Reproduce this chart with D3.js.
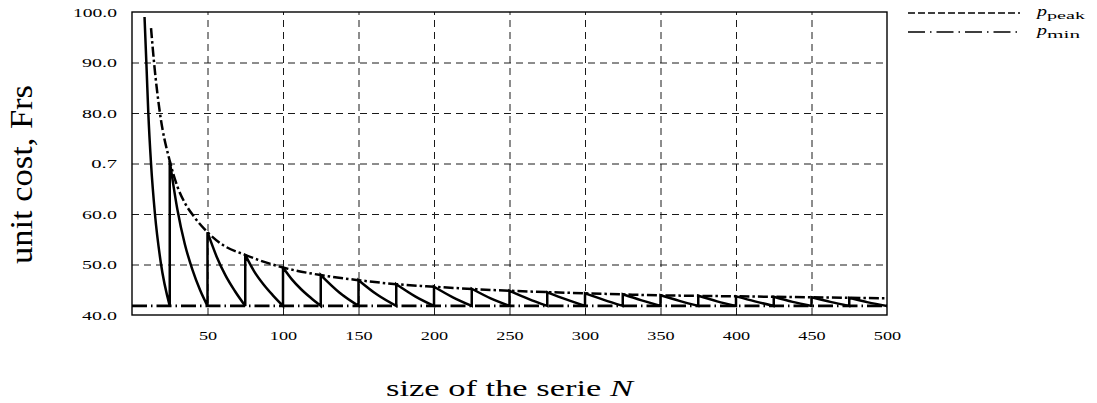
<!DOCTYPE html>
<html>
<head>
<meta charset="utf-8">
<script src="https://cdn.jsdelivr.net/npm/d3@7"></script>
<style>
  body { margin: 0; background: #fff; }
  svg text { font-family: 'Liberation Serif', 'DejaVu Serif', serif; fill: #000; }
</style>
</head>
<body>
<div id="chart"></div>
<script>
// Unit cost of a serie: sawtooth with its peak and minimum envelopes

// Sawtooth (solid line), one list per tooth
const toothN = [
  [8.3, 9.7, 10.8, 12.6, 15.2, 19, 25],
  [25, 30, 35, 40, 45, 50],
  [50, 56, 62, 68, 75],
  [75, 81, 87, 93, 100],
  [100, 106, 112, 118, 125],
  [125, 137.5, 150],
  [150, 162.5, 175],
  [175, 187.5, 200],
  [200, 212.5, 225],
  [225, 237.5, 250],
  [250, 262.5, 275],
  [275, 287.5, 300],
  [300, 312.5, 325],
  [325, 337.5, 350],
  [350, 362.5, 375],
  [375, 387.5, 400],
  [400, 412.5, 425],
  [425, 437.5, 450],
  [450, 462.5, 475],
  [475, 487.5, 500]
]
const toothCost = [
  [99.0, 88.5, 80.0, 70.0, 60.0, 50.5, 41.8],
  [70.5, 61.0, 54.0, 49.0, 45.0, 41.8],
  [56.4, 51.6, 47.8, 44.8, 41.8],
  [51.9, 48.6, 46.1, 44.0, 41.8],
  [49.4, 47.0, 45.1, 43.5, 41.8],
  [47.9, 44.4, 41.8],
  [46.9, 44.0, 41.8],
  [46.1, 43.7, 41.8],
  [45.6, 43.5, 41.8],
  [45.2, 43.3, 41.8],
  [44.8, 43.2, 41.8],
  [44.5, 43.1, 41.8],
  [44.3, 43.0, 41.8],
  [44.1, 42.9, 41.8],
  [43.9, 42.8, 41.8],
  [43.8, 42.7, 41.8],
  [43.7, 42.7, 41.8],
  [43.6, 42.6, 41.8],
  [43.5, 42.6, 41.8],
  [43.4, 42.5, 41.8]
]

// p_peak envelope (dash-dot)
const peakN = [12.6, 14.6, 18.5, 25, 30, 35, 41, 50, 60, 75, 100, 125, 150, 175, 200, 250, 300, 350, 400, 450, 500]
const peakCost = [96.8, 90.0, 80.0, 70.5, 65.5, 62.2, 59.5, 56.4, 53.9, 51.9, 49.4, 47.9, 46.9, 46.1, 45.6, 44.8, 44.3, 43.9, 43.7, 43.5, 43.3]

// p_min level (long dash-dot)
const minN = [0, 500]
const minCost = [41.8, 41.8]

// Axes
const xTicks = [50, 100, 150, 200, 250, 300, 350, 400, 450, 500]
const yTicks = [40, 50, 60, 70, 80, 90, 100]
const yTickLabels = ['40.0', '50.0', '60.0', '0.7', '80.0', '90.0', '100.0']

const width = 1097
const height = 403
const plot = { left: 132, right: 887, top: 12, bottom: 315 }

const svg = d3.select('#chart')
  .append('svg')
  .attr('width', width)
  .attr('height', height)
  .style('display', 'block')

const x = d3.scaleLinear().domain([0, 500]).range([plot.left, plot.right])
const y = d3.scaleLinear().domain([40, 100]).range([plot.bottom, plot.top])

// label width in the (stretched) original figure
const labelWidth = s => s.split('').reduce((w, c) => w + (c === '.' ? 7.6 : 9.1), 0)

// grid
svg.append('g')
  .attr('transform', `translate(0, ${plot.bottom})`)
  .call(d3.axisBottom(x).tickValues(xTicks.filter(d => d < 500)).tickSize(-(plot.bottom - plot.top)).tickFormat(''))
  .call(g => g.select('.domain').remove())
  .call(g => g.selectAll('line').attr('stroke', '#1a1a1a').attr('stroke-dasharray', '7,5'))

svg.append('g')
  .attr('transform', `translate(${plot.left}, 0)`)
  .call(d3.axisLeft(y).tickValues(yTicks.filter(d => d > 40 && d < 100)).tickSize(-(plot.right - plot.left)).tickFormat(''))
  .call(g => g.select('.domain').remove())
  .call(g => g.selectAll('line').attr('stroke', '#1a1a1a').attr('stroke-dasharray', '7,5'))

// tick labels
svg.append('g')
  .attr('transform', `translate(0, ${plot.bottom})`)
  .call(d3.axisBottom(x).tickValues(xTicks).tickSize(0).tickFormat(d3.format('d')))
  .call(g => g.select('.domain').remove())
  .call(g => g.selectAll('text')
    .attr('y', 25).attr('dy', null)
    .attr('font-size', 13)
    .attr('textLength', function () { return labelWidth(this.textContent) })
    .attr('lengthAdjust', 'spacingAndGlyphs'))

svg.append('g')
  .attr('transform', `translate(${plot.left}, 0)`)
  .call(d3.axisLeft(y).tickValues(yTicks).tickSize(0).tickPadding(15).tickFormat((d, i) => yTickLabels[i]))
  .call(g => g.select('.domain').remove())
  .call(g => g.selectAll('text')
    .attr('dy', '0.34em')
    .attr('font-size', 13)
    .attr('textLength', function () { return labelWidth(this.textContent) })
    .attr('lengthAdjust', 'spacingAndGlyphs'))

// curves, clipped to the frame
svg.append('clipPath').attr('id', 'clip')
  .append('rect')
  .attr('x', plot.left).attr('y', plot.top)
  .attr('width', plot.right - plot.left).attr('height', plot.bottom - plot.top)

const curves = svg.append('g').attr('clip-path', 'url(#clip)')

const line = d3.line().x(d => x(d[0])).y(d => y(d[1])).curve(d3.curveMonotoneX)

// p_min
curves.append('path')
  .attr('d', d3.line().x(d => x(d[0])).y(d => y(d[1]))(minN.map((n, i) => [n, minCost[i]])))
  .attr('fill', 'none').attr('stroke', '#000').attr('stroke-width', 2.8)
  .attr('stroke-dasharray', '15,4,1.5,4')

// p_peak
curves.append('path')
  .attr('d', line(peakN.map((n, i) => [n, peakCost[i]])))
  .attr('fill', 'none').attr('stroke', '#000').attr('stroke-width', 2.5)
  .attr('stroke-dasharray', '10,3,2.5,3')

// sawtooth: teeth joined by vertical jumps
const teeth = toothN.map((ns, i) => ns.map((n, j) => [n, toothCost[i][j]]))
const sawPath = teeth.map(t => line(t)).join('').replace(/(?!^)M/g, 'L')
curves.append('path')
  .attr('d', sawPath)
  .attr('fill', 'none').attr('stroke', '#000').attr('stroke-width', 2.5)
  .attr('stroke-linejoin', 'miter').attr('stroke-miterlimit', 3)

// frame
svg.append('rect')
  .attr('x', plot.left).attr('y', plot.top)
  .attr('width', plot.right - plot.left).attr('height', plot.bottom - plot.top)
  .attr('fill', 'none').attr('stroke', '#000').attr('stroke-width', 1.4)

// axis titles
const xTitle = svg.append('text')
  .attr('x', (plot.left + plot.right) / 2)
  .attr('y', 395.5)
  .attr('text-anchor', 'middle')
  .attr('font-size', 23)
  .attr('textLength', 247)
  .attr('lengthAdjust', 'spacingAndGlyphs')
xTitle.append('tspan').text('size of the serie ')
xTitle.append('tspan').attr('font-style', 'italic').text('N')

svg.append('text')
  .attr('transform', `translate(32, ${(plot.top + plot.bottom) / 2 + 11}) rotate(-90) scale(1, 1.4)`)
  .attr('text-anchor', 'middle')
  .attr('font-size', 23)
  .attr('textLength', 179)
  .attr('lengthAdjust', 'spacingAndGlyphs')
  .text('unit cost,  Frs')

// legend
const legendItems = [
  { sub: 'peak', dash: '7,3', y: 13, subWidth: 38 },
  { sub: 'min', dash: '17,5,1.5,5', y: 32, subWidth: 33 }
]
const legend = svg.append('g')
legendItems.forEach(item => {
  legend.append('line')
    .attr('x1', 908).attr('x2', 1020)
    .attr('y1', item.y).attr('y2', item.y)
    .attr('stroke', '#000').attr('stroke-width', 1.3)
    .attr('stroke-dasharray', item.dash)
  legend.append('text')
    .attr('x', 1037).attr('y', item.y + 3)
    .attr('font-size', 15).attr('font-style', 'italic')
    .attr('textLength', 10).attr('lengthAdjust', 'spacingAndGlyphs')
    .text('p')
  legend.append('text')
    .attr('x', 1047).attr('y', item.y + 5.5)
    .attr('font-size', 10.5)
    .attr('textLength', item.subWidth).attr('lengthAdjust', 'spacingAndGlyphs')
    .text(item.sub)
})
</script>
</body>
</html>
